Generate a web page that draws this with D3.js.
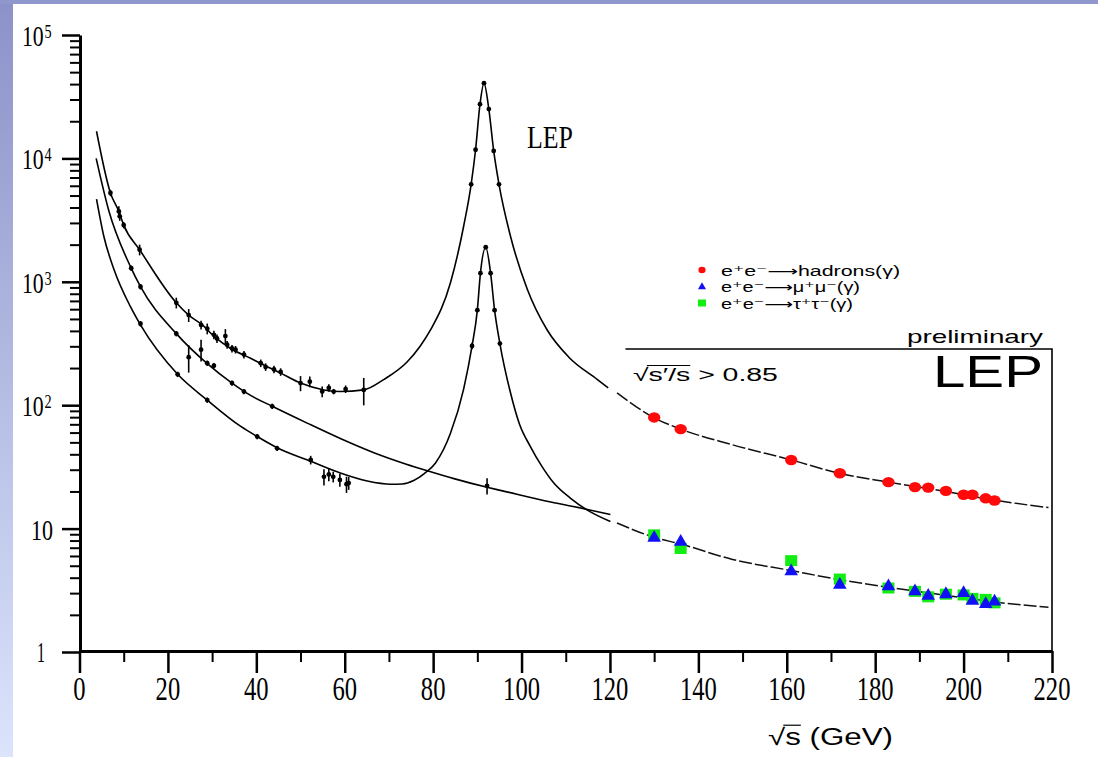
<!DOCTYPE html>
<html>
<head>
<meta charset="utf-8">
<script src="https://cdn.jsdelivr.net/npm/d3@7"></script>
<style>
  body { margin: 0; background: #fff; }
  svg { display: block; }
</style>
</head>
<body>
<div id="chart"></div>
<script>
// axis ticks
var xTicks = [0, 20, 40, 60, 80, 100, 120, 140, 160, 180, 200, 220];
var xMinor = [10, 30, 50, 70, 90, 110, 130, 150, 170, 190, 210];
var yDecades = [1, 10, 100, 1000, 10000, 100000];
var yExponents = ["", "", "2", "3", "4", "5"];
var yMinor = [];
[1, 10, 100, 1000, 10000].forEach(function(d) {
  for (var k = 2; k <= 9; k++) yMinor.push(d * k);
});

// fitted curves, [sqrt(s) GeV, sigma pb]
var hadronCurve = [[3.85,16600],[7.0,5250],[8.9,3720],[10,2880],[13.6,1820],[21.9,676],[24.7,537],
  [27.8,447],[30.4,363],[34.2,288],[38.7,240],[40.9,219],[45.5,182],[50,151],[55.3,133],[59,129],
  [64.3,133],[68.9,162],[74.1,224],[77.1,302],[79.4,407],[83.9,977],[86.9,2820],[88.6,6170],
  [89.6,11750],[90.6,27500],[91.5,40700],[92.6,25100],[93.7,11500],[94.9,6170],[97.5,2340],
  [101.3,871],[105.8,407],[110.7,245],[117.1,162],[119.6,138]];
var smoothCurve = [[3.77,10000],[6.6,3800],[11.5,1333],[13.8,912],[21.9,380],[28.9,217],[34.5,151],
  [38.7,120],[43.6,98],[51.5,71.6],[59,53.7],[66.6,41.2],[74.1,33.1],[79,29.2],[84.7,25.4],
  [92.2,21.6],[95.2,20.4],[106.6,16.4],[114.9,14.3],[120.1,13.0]];
var muonCurve = [[3.85,4680],[5.5,2340],[7.8,1260],[11.5,631],[13.8,447],[22.2,178],[28.9,110],
  [36.4,67.6],[40.2,55.7],[44.7,45.2],[52.3,35.1],[59,28.2],[65.1,24.3],[70.4,22.9],[73,23.0],
  [75.6,24.5],[78,27.9],[80.5,33.9],[83.9,58.9],[86.9,135],[88.8,302],[90.0,589],[90.7,1175],
  [91.9,1905],[93.0,1175],[93.9,589],[95.1,316],[97.5,126],[99.5,70.8],[102,46.2],[104.5,32.4],
  [107.3,23.4],[111.1,17.6],[114.9,14.1],[120.1,11.4]];
var hadronHighCurve = [[121.6,126],[130,79],[136,64],[147.5,48],[161,36],[172,28],[183,23.8],
  [196,20],[207,17],[219.2,14.8]];
var leptonHighCurve = [[121.6,11.1],[130,8.5],[136,7.5],[147.5,5.65],[161,4.57],[172,3.85],
  [183,3.35],[196,2.88],[207,2.54],[219.2,2.3]];

// low energy measurements [sqrt(s), sigma, relative error]
var hadronPts = [[7.0,5250,0.06],[8.9,3720,0.1],[9.1,3390,0.08],[10.0,2880,0.06],[13.6,1820,0.1],
  [21.9,676,0.1],[24.7,537,0.12],[27.5,447,0.08],[28.9,417,0.1],[30.4,372,0.08],[31.1,347,0.08],
  [33.0,363,0.14],[33.4,309,0.07],[34.5,288,0.07],[35.3,282,0.07],[37.2,257,0.07],[41.0,219,0.07],
  [42.1,204,0.07],[44.0,195,0.07],[45.5,186,0.07],[50.0,151,0.14],[52.1,155,0.1],[54.9,129,0.1],
  [56.4,138,0.07],[57.5,129,0.05],[60.2,135,0.07],[64.3,133,0.25]];
var smoothPts = [[11.7,1290,0.05],[13.8,912,0.05],[21.9,380,0.05],[24.7,245,0.25],[27.5,282,0.2],
  [28.9,219,0.05],[30.4,209,0.05],[34.5,151,0.05],[37.2,129,0.05],[43.6,98,0.05],[92.2,22.2,0.15]];
var muonPts = [[13.8,457,0.05],[22.2,178,0.05],[28.9,110,0.05],[40.2,55.7,0.05],[44.7,44.7,0.05],
  [52.3,36,0.08],[55.3,26.3,0.15],[56.4,27.5,0.12],[57.4,26.3,0.1],[58.9,24.8,0.12],
  [60.4,22.9,0.15],[60.9,23.4,0.12]];
var hadronZPts = [[88.6,6170,0.03],[89.6,11750,0.02],[90.6,27500,0.02],[91.5,40700,0],
  [92.6,25100,0.02],[93.7,11500,0.02],[94.9,6170,0.03]];
var muonZPts = [[88.8,302,0.06],[90.0,589,0.03],[90.7,1175,0.02],[91.9,1905,0],[93.0,1175,0.02],
  [93.9,589,0.03],[95.1,316,0.04]];

// LEP2 points
var lepEnergies = [130, 136, 161, 172, 183, 189, 192, 196, 200, 202, 205, 207];
var lepHadrons = [79.6, 64, 36, 28.1, 23.8, 21.7, 21.5, 20.2, 18.8, 18.8, 17.6, 16.9];
var lepMuons = [8.4, 7.8, 4.5, 3.5, 3.4, 3.1, 2.85, 2.94, 3.0, 2.6, 2.45, 2.56];
var lepTaus = [8.9, 6.9, 5.5, 3.9, 3.3, 3.1, 2.8, 2.94, 2.9, 2.72, 2.67, 2.5];

var legendLabels = ["e\u207Ae\u207B\u27F6hadrons(\u03B3)", "e\u207Ae\u207B\u27F6\u03BC\u207A\u03BC\u207B(\u03B3)", "e\u207Ae\u207B\u27F6\u03C4\u207A\u03C4\u207B(\u03B3)"];

var W = 1098, H = 757;
var serif = "'Liberation Serif', 'DejaVu Serif', serif";
var sans = "'Liberation Sans', 'DejaVu Sans', sans-serif";

var svg = d3.select("#chart").append("svg").attr("width", W).attr("height", H);

// slide background pieces
var grad = svg.append("defs").append("linearGradient").attr("id", "side")
  .attr("x1", 0).attr("y1", 0).attr("x2", 0).attr("y2", 1);
grad.append("stop").attr("offset", "0%").attr("stop-color", "#8a92c9");
grad.append("stop").attr("offset", "100%").attr("stop-color", "#dce4fc");
svg.append("rect").attr("width", W).attr("height", H).attr("fill", "#fff");
svg.append("rect").attr("width", 13).attr("height", H).attr("fill", "url(#side)");
svg.append("rect").attr("width", W).attr("height", 4).attr("fill", "#8f97cd");

var x = d3.scaleLinear().domain([0, 220]).range([79.5, 1052]);
var y = d3.scaleLog().domain([1, 1e5]).range([652, 35]);

// axes
function styleAxis(g, w) {
  g.selectAll("path").attr("stroke", "#000").attr("stroke-width", 3);
  g.selectAll("line").attr("stroke", "#000").attr("stroke-width", w);
}
svg.append("g").attr("transform", "translate(0,651)")
  .call(d3.axisBottom(x).tickValues(xMinor).tickSize(11).tickFormat(""))
  .call(function(g) { g.select(".domain").remove(); styleAxis(g, 2); });
svg.append("g").attr("transform", "translate(0,651)")
  .call(d3.axisBottom(x).tickValues(xTicks).tickSize(22).tickSizeOuter(0).tickFormat(""))
  .call(function(g) { styleAxis(g, 2.5); });
svg.append("g").attr("transform", "translate(80,0)")
  .call(d3.axisLeft(y).tickValues(yMinor).tickSize(10).tickFormat(""))
  .call(function(g) { g.select(".domain").remove(); styleAxis(g, 2); });
svg.append("g").attr("transform", "translate(80,0)")
  .call(d3.axisLeft(y).tickValues(yDecades).tickSize(18).tickSizeOuter(0).tickFormat(""))
  .call(function(g) { styleAxis(g, 2.5); });

function fitText(txt, x0, yb, size, width, family) {
  return svg.append("text").attr("x", x0).attr("y", yb)
    .attr("font-size", size).attr("font-family", family)
    .attr("textLength", width).attr("lengthAdjust", "spacingAndGlyphs")
    .text(txt);
}

// x tick labels (condensed serif)
xTicks.forEach(function(v) {
  var s = String(v), w = 12.3 * s.length;
  fitText(s, x(v) - w / 2, 700, 33, w, serif);
});

// y tick labels, "10" with the exponent in the same text element
yDecades.forEach(function(v, i) {
  var ty = y(v);
  if (v === 1) { fitText("1", 37, ty + 10, 29, 8, serif); return; }
  if (yExponents[i] === "") { fitText("10", 31, ty + 11, 29, 22, serif); return; }
  var t = svg.append("text").attr("font-family", serif).attr("font-size", 29)
    .attr("transform", "translate(22," + (ty + 11) + ") scale(0.75,1)");
  t.append("tspan").text("10");
  t.append("tspan").attr("font-size", 19).attr("dy", -8).attr("dx", 1).text(yExponents[i]);
});

// box around the LEP2 region
svg.append("path")
  .attr("d", "M" + x(123.5) + "," + 349 + "H" + x(220) + "V" + y(1))
  .attr("fill", "none").attr("stroke", "#000").attr("stroke-width", 1.6);

// curves
var line = d3.line().x(function(d) { return x(d[0]); }).y(function(d) { return y(d[1]); })
  .curve(d3.curveMonotoneX);
[hadronCurve, smoothCurve, muonCurve].forEach(function(c) {
  svg.append("path").attr("d", line(c)).attr("fill", "none")
    .attr("stroke", "#000").attr("stroke-width", 1.6);
});
[hadronHighCurve, leptonHighCurve].forEach(function(c) {
  svg.append("path").attr("d", line(c)).attr("fill", "none")
    .attr("stroke", "#111").attr("stroke-width", 1.5).attr("stroke-dasharray", "13,3");
});

// low energy data with error bars
var blackPts = hadronPts.concat(smoothPts, muonPts, hadronZPts, muonZPts);
var pg = svg.append("g");
pg.selectAll("line").data(blackPts).enter().append("line")
  .attr("x1", function(d) { return x(d[0]); }).attr("x2", function(d) { return x(d[0]); })
  .attr("y1", function(d) { return y(d[1] * (1 + d[2])); })
  .attr("y2", function(d) { return y(d[1] * (1 - d[2])); })
  .attr("stroke", "#000").attr("stroke-width", 1.6);
pg.selectAll("circle").data(blackPts).enter().append("circle")
  .attr("cx", function(d) { return x(d[0]); }).attr("cy", function(d) { return y(d[1]); })
  .attr("r", 2.4).attr("fill", "#000");

// LEP2 points
var red = "#ff0a0a", blue = "#1010f5", green = "#12ee12";
svg.append("g").selectAll("rect").data(lepEnergies).enter().append("rect")
  .attr("x", function(d) { return x(d) - 6; })
  .attr("y", function(d, i) { return y(lepTaus[i]) - 5.5; })
  .attr("width", 12).attr("height", 11).attr("fill", green);
svg.append("g").selectAll("path").data(lepEnergies).enter().append("path")
  .attr("d", d3.symbol(d3.symbolTriangle, 80))
  .attr("transform", function(d, i) { return "translate(" + x(d) + "," + y(lepMuons[i]) + ")"; })
  .attr("fill", blue);
svg.append("g").selectAll("ellipse").data(lepEnergies).enter().append("ellipse")
  .attr("cx", function(d) { return x(d); })
  .attr("cy", function(d, i) { return y(lepHadrons[i]); })
  .attr("rx", 6.2).attr("ry", 5.2).attr("fill", red);

// legend
var lg = svg.append("g");
var legendWidths = [179, 139, 132];
legendLabels.forEach(function(t, i) {
  var cy = 270 + i * 16.5;
  if (i === 0) lg.append("ellipse").attr("cx", 702).attr("cy", cy).attr("rx", 3.6).attr("ry", 3.2).attr("fill", red);
  if (i === 1) lg.append("path").attr("d", d3.symbol(d3.symbolTriangle, 28)).attr("transform", "translate(702," + (cy + 0.5) + ")").attr("fill", blue);
  if (i === 2) lg.append("rect").attr("x", 698).attr("y", cy - 3.5).attr("width", 8).attr("height", 7).attr("fill", green);
  fitText(t, 721, cy + 5.5, 14, legendWidths[i], sans);
});

// annotations
fitText("LEP", 527, 148, 31, 46, serif);
fitText("preliminary", 907, 343, 19, 136, sans);
fitText("LEP", 933, 387, 44, 110, sans);

function sqrtLabel(str, nUnder, x0, yb, size, width) {
  var g = svg.append("g");
  var t = g.append("text").attr("x", 0).attr("y", 0).attr("font-size", size)
    .attr("font-family", sans).text(str);
  var node = t.node();
  var k = width / node.getComputedTextLength();
  g.attr("transform", "translate(" + x0 + "," + yb + ") scale(" + k + ",1)");
  var a = node.getEndPositionOfChar(0).x - size * 0.06;
  var b = node.getEndPositionOfChar(nUnder).x;
  g.append("line").attr("x1", a).attr("x2", b)
    .attr("y1", -size * 0.86).attr("y2", -size * 0.86)
    .attr("stroke", "#000").attr("stroke-width", 1.2);
}
sqrtLabel("\u221As\u2032/s > 0.85", 4, 633, 381, 18, 145);
sqrtLabel("\u221As (GeV)", 1, 768, 745, 23, 125);
</script>
</body>
</html>
